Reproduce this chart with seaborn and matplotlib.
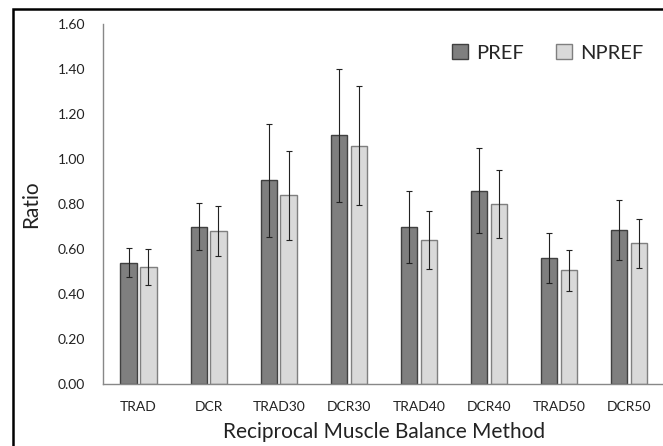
import matplotlib
matplotlib.use("Agg")
import matplotlib.pyplot as plt
import seaborn as sns
import pandas as pd
import numpy as np
from matplotlib.patches import Rectangle

methods = ["TRAD", "DCR", "TRAD30", "DCR30", "TRAD40", "DCR40", "TRAD50", "DCR50"]
pref = [0.54, 0.70, 0.905, 1.105, 0.70, 0.86, 0.56, 0.685]
npref = [0.52, 0.68, 0.84, 1.06, 0.64, 0.80, 0.505, 0.625]
pref_err = [0.064, 0.106, 0.25, 0.296, 0.16, 0.187, 0.11, 0.133]
npref_err = [0.082, 0.112, 0.198, 0.266, 0.128, 0.151, 0.09, 0.109]
groups = ["PREF", "NPREF"]

df = pd.DataFrame({
    "Method": methods * 2,
    "Group": [groups[0]] * len(methods) + [groups[1]] * len(methods),
    "Ratio": pref + npref,
    "Err": pref_err + npref_err,
})

sns.set_style("white")
plt.rcParams["font.family"] = ["Lato", "DejaVu Sans"]

fig = plt.figure(figsize=(6.63, 4.46), dpi=100)
ax = fig.add_axes([0.156, 0.139, 0.846, 0.807])

palette = {"PREF": "#7f7f7f", "NPREF": "#d9d9d9"}
sns.barplot(data=df, x="Method", y="Ratio", hue="Group", order=methods,
            hue_order=groups, palette=palette, width=0.565, gap=0.18,
            errorbar=None, ax=ax, legend=True, saturation=1)

edge = {"PREF": "#404040", "NPREF": "#7f7f7f"}
for cont, g in zip(ax.containers, groups):
    sub = df[df.Group == g].set_index("Method").loc[methods]
    for patch, val, err in zip(cont.patches, sub["Ratio"], sub["Err"]):
        patch.set_edgecolor(edge[g])
        patch.set_linewidth(1.0)
        xc = patch.get_x() + patch.get_width() / 2
        ax.errorbar(xc, val, yerr=err, fmt="none", ecolor="#222222",
                    elinewidth=0.8, capsize=2.0, capthick=0.8, zorder=5)

ax.set_ylim(0, 1.6)
ax.set_yticks(np.arange(0, 1.61, 0.2))
ax.set_yticklabels([f"{v:.2f}" for v in np.arange(0, 1.61, 0.2)], fontsize=10, color="#222222")
ax.set_xlim(-0.5, len(methods) - 0.5)
ax.tick_params(axis="x", labelsize=10, colors="#222222", length=0, pad=12)
ax.tick_params(axis="y", length=0, pad=13)
ax.set_xlabel("Reciprocal Muscle Balance Method", fontsize=15, color="#222222", labelpad=7)
ax.set_ylabel("Ratio", fontsize=15, color="#222222", labelpad=12)

for s in ["top", "right"]:
    ax.spines[s].set_visible(False)
for s in ["left", "bottom"]:
    ax.spines[s].set_color("#888888")
    ax.spines[s].set_linewidth(1.0)

leg = ax.legend(loc="upper right", bbox_to_anchor=(0.995, 0.995), ncol=2, frameon=False,
                fontsize=14.5, handlelength=0.8, handleheight=0.8, columnspacing=1.6,
                handletextpad=0.4)
for h, g in zip(leg.legend_handles, groups):
    h.set_edgecolor(edge[g])
    h.set_linewidth(1.0)

fig.patches.append(Rectangle((13 / 663, -0.1), 1.2, 1 - 9 / 446 + 0.1,
                             transform=fig.transFigure, fill=False,
                             edgecolor="black", linewidth=1.8, clip_on=False))

fig.savefig("out.png", dpi=100)
